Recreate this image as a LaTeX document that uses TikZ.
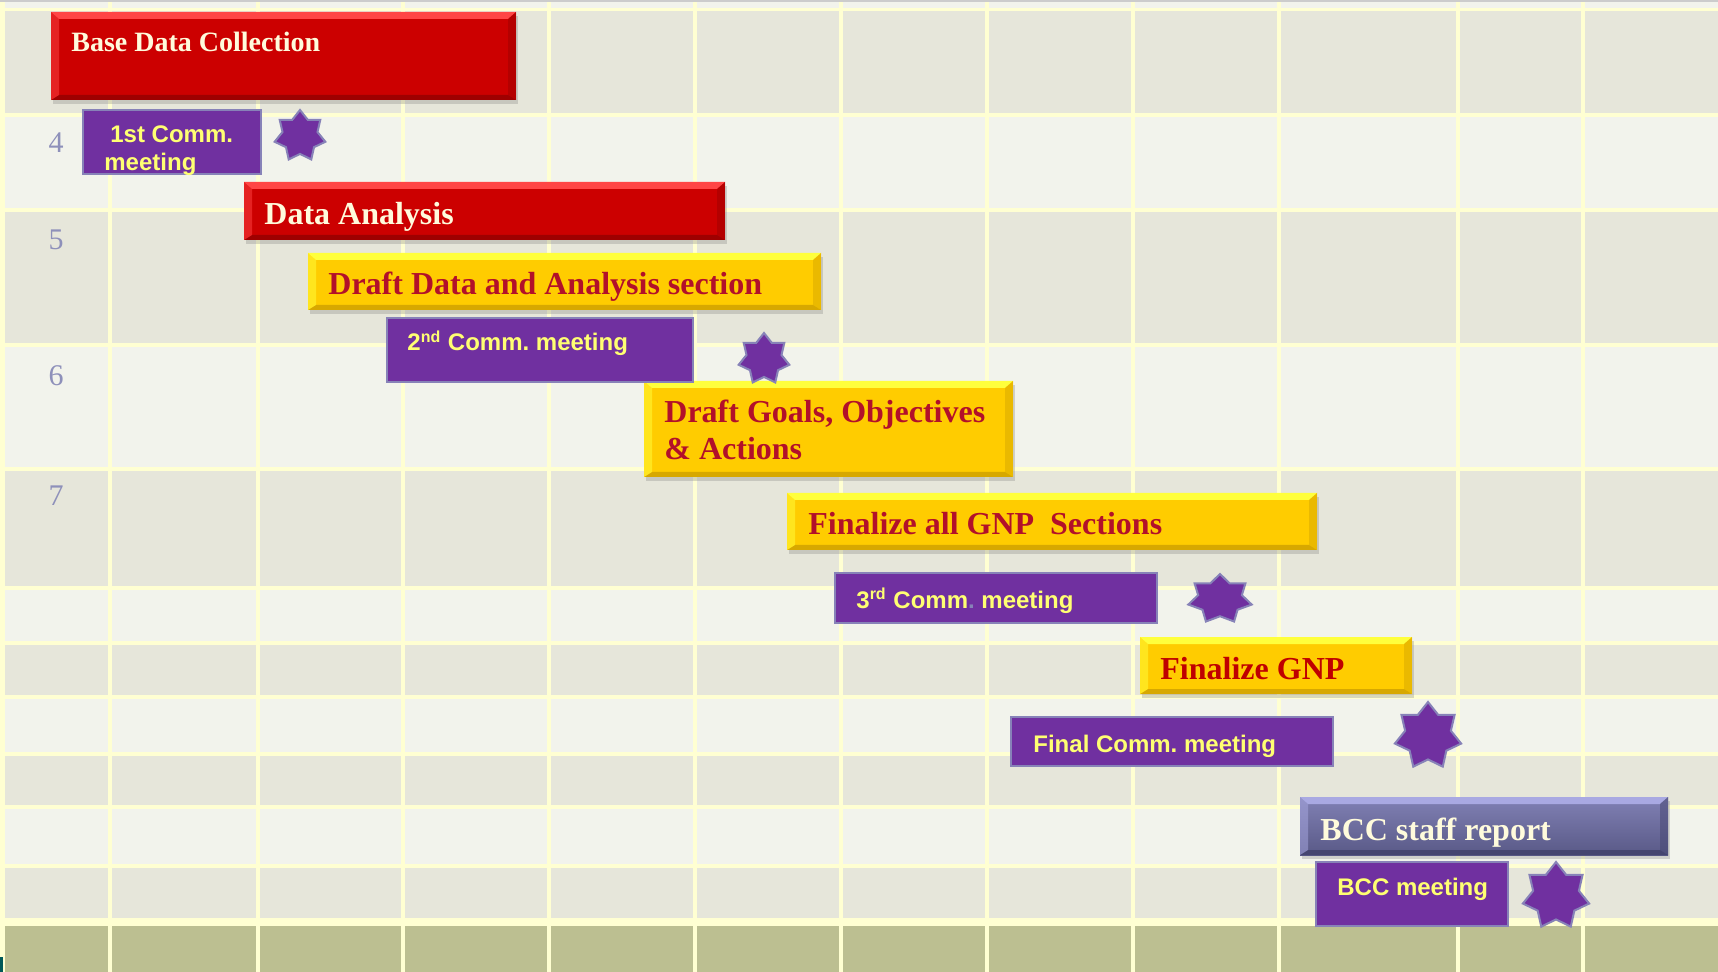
\documentclass[tikz,border=0pt]{standalone}
\usepackage{fontspec}
\setmainfont{Liberation Serif}
\setsansfont{Liberation Sans}
\usetikzlibrary{shapes.geometric}
\usetikzlibrary{shadows}

\definecolor{gridyellow}{HTML}{FFFFD2}
\definecolor{rowdark}{HTML}{E6E6DA}
\definecolor{rowlight}{HTML}{F2F3EC}
\definecolor{rowgreen}{HTML}{BCBF91}
\definecolor{barred}{HTML}{CC0000}
\definecolor{barredhi}{HTML}{FF4545}
\definecolor{barredlo}{HTML}{9E0000}
\definecolor{baryellow}{HTML}{FFCC00}
\definecolor{baryellowhi}{HTML}{FFFF3C}
\definecolor{baryellowlo}{HTML}{D7A800}
\definecolor{slatehi}{HTML}{A9A9E2}
\definecolor{slatelo}{HTML}{454570}
\definecolor{meetpurple}{HTML}{7030A0}
\definecolor{meetedge}{HTML}{8782B8}
\definecolor{meettext}{HTML}{FFFF72}
\definecolor{cream}{HTML}{FFFBDC}
\definecolor{darkred}{HTML}{B2102A}
\definecolor{weekgray}{HTML}{8E90BA}

\begin{document}
\begin{tikzpicture}[x=0.5pt, y=-0.5pt,
  bevel/.style 2 args={path picture={
    \coordinate (nw) at (path picture bounding box.north west);
    \coordinate (ne) at (path picture bounding box.north east);
    \coordinate (sw) at (path picture bounding box.south west);
    \coordinate (se) at (path picture bounding box.south east);
    \fill[#1] (nw) -- (ne) -- ([shift={(-4pt,-3.5pt)}]ne) -- ([shift={(4pt,-3.5pt)}]nw) -- cycle;
    \fill[#2] (sw) -- (se) -- ([shift={(-4pt,2.5pt)}]se) -- ([shift={(4pt,2.5pt)}]sw) -- cycle;
    \fill[#1,opacity=.5] (nw) -- ([shift={(4pt,-3.5pt)}]nw) -- ([shift={(4pt,2.5pt)}]sw) -- (sw) -- cycle;
    \fill[#2,opacity=.5] (ne) -- ([shift={(-4pt,-3.5pt)}]ne) -- ([shift={(-4pt,2.5pt)}]se) -- (se) -- cycle;
  }},
  barshadow/.style={drop shadow={shadow xshift=1pt, shadow yshift=-2pt, opacity=.3}},
  redbar/.style={barshadow, fill=barred, bevel={barredhi}{barredlo}},
  yellowbar/.style={barshadow, fill=baryellow, bevel={baryellowhi}{baryellowlo}},
  slatebar/.style={barshadow, top color=slatehi!60!slatelo, bottom color=slatelo!80!slatehi, bevel={slatehi}{slatelo}},
  meetbox/.style={fill=meetpurple, draw=meetedge, line width=1.2pt},
  meetstar/.style={star, star points=7, star point ratio=1.45, fill=meetpurple, draw=meetedge, line width=1pt, inner sep=0pt},
  bartitle/.style={font=\fontsize{16}{18.5}\selectfont\bfseries, inner sep=0pt, anchor=base west},
  meetlabel/.style={font=\sffamily\bfseries\fontsize{12}{14}\selectfont\frenchspacing, text=meettext, inner sep=0pt, anchor=base west},
  weeknum/.style={font=\fontsize{15}{18}\selectfont, text=weekgray, inner sep=0pt, anchor=base}]
\useasboundingbox (0,0) rectangle (1718,972);

% background and grid
\fill[gridyellow] (0,0) rectangle (1718,972);
\foreach \ya/\yb/\c in {0/8/rowlight, 11/113/rowdark, 117/208/rowlight, 212/343/rowdark,
  347/467/rowlight, 471/586/rowdark, 590/641/rowlight, 645/695/rowdark, 699/752/rowlight,
  756/805/rowdark, 809/864/rowlight, 868/918/rowdark, 926/972/rowgreen}
  \fill[\c] (5,\ya) rectangle (1718,\yb);
\fill[black!20] (0,0) rectangle (1718,2);
\foreach \x in {110,258,403,549,695,841,987,1133,1279,1458,1583}
  \draw[gridyellow, line width=1.6pt] (\x,2) -- (\x,972);
\fill[teal!70!black] (0,957) rectangle (3,972);

\foreach \n/\y in {4/153, 5/250, 6/386, 7/506}
  \node[weeknum] (w\n) at (56,\y) {\n};

% bars
\path[redbar] (51,12) rectangle (516,100);
\path[redbar] (244,182) rectangle (725,240);
\path[yellowbar] (308,253) rectangle (821,310);
\path[yellowbar] (644,381) rectangle (1013,477);
\path[yellowbar] (787,493) rectangle (1317,550);
\path[yellowbar] (1140,637) rectangle (1412,694);
\path[slatebar] (1300,797) rectangle (1668,855);

% committee meetings
\path[meetbox] (83,110) rectangle (261,174);
\path[meetbox] (387,318) rectangle (693,382);
\path[meetbox] (835,573) rectangle (1157,623);
\path[meetbox] (1011,717) rectangle (1333,766);
\path[meetbox] (1316,862) rectangle (1508,926);

\node[meetstar, minimum size=26pt] (star1) at (300,136) {};
\node[meetstar, minimum size=26pt] (star2) at (764,359) {};
\begin{scope}[shift={(1220,599)}, xscale=1.3]
  \node[meetstar, transform shape, minimum size=25pt] (star3) at (0,0) {};
\end{scope}
\node[meetstar, minimum size=34pt] (star4) at (1428,736) {};
\node[meetstar, minimum size=34pt] (star5) at (1556,896) {};

% labels
\node[bartitle, text=cream, font=\fontsize{14}{16}\selectfont\bfseries] (bdc) at (71,52) {Base Data Collection};
\node[bartitle, text=cream] (da) at (264,225) {Data Analysis};
\node[bartitle, text=darkred] (dda) at (328,295) {Draft Data and Analysis section};
\node[bartitle, text=darkred, text width=175pt, align=left] (dgo) at (664,423)
  {\spaceskip=0pt\xspaceskip=0pt Draft Goals, Objectives\\\& Actions};
\node[bartitle, text=darkred] (fgs) at (808,535) {Finalize all GNP\ \ Sections};
\node[bartitle, text=red!75!black] (fgnp) at (1160,679) {Finalize GNP};
\node[bartitle, text=cream] (bcc) at (1320,840) {BCC staff report};

\node[meetlabel, text width=80pt, align=left] (m1) at (104,143)
  {\spaceskip=0pt\xspaceskip=0pt\hspace{3pt}1st Comm.\\meeting};
\node[meetlabel] (m2) at (407,351) {2\textsuperscript{nd} Comm. meeting};
\node[meetlabel] (m3) at (856,608) {3\textsuperscript{rd} Comm{\color{meetedge}.} meeting};
\node[meetlabel] (m4) at (1033,752) {Final Comm. meeting};
\node[meetlabel] (m5) at (1337,895) {BCC meeting};
\end{tikzpicture}
\end{document}
